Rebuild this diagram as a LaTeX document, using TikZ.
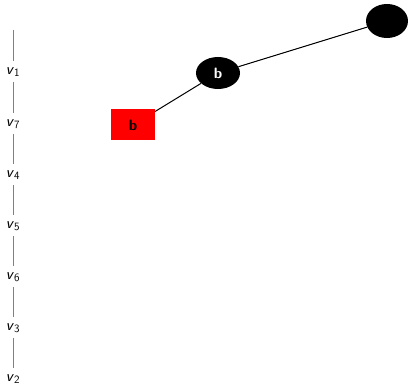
\documentclass[tikz,border=0pt]{standalone}
\usepackage{tikz}
\usetikzlibrary{shapes.geometric}
\begin{document}
\begin{tikzpicture}[x=1pt,y=-1pt,
  lab/.style={inner sep=1pt,font=\sffamily\fontsize{16}{18}\selectfont},
  vline/.style={draw=gray,line width=1pt,shorten <=10pt,shorten >=10.5pt},
  blk/.style={ellipse,fill=black,text=white,minimum width=44pt,minimum height=32pt,inner sep=0pt,font=\sffamily\bfseries\fontsize{15}{17}\selectfont},
  redbox/.style={rectangle,fill=red,text=black,minimum width=44pt,minimum height=31pt,inner sep=0pt,font=\sffamily\bfseries\fontsize{15}{17}\selectfont},
  edge/.style={draw=black,line width=1pt}]
\useasboundingbox (0,0) rectangle (408,385);
\coordinate (top) at (13,30);
\node[lab] (v1) at (13,72) {\textit{v}\textsubscript{1}};
\node[lab] (v7) at (13,124) {\textit{v}\textsubscript{7}};
\node[lab] (v4) at (13,175) {\textit{v}\textsubscript{4}};
\node[lab] (v5) at (13,226) {\textit{v}\textsubscript{5}};
\node[lab] (v6) at (13,277) {\textit{v}\textsubscript{6}};
\node[lab] (v3) at (13,328) {\textit{v}\textsubscript{3}};
\node[lab] (v2) at (13,379) {\textit{v}\textsubscript{2}};
\path[vline,shorten <=0pt] (top) -- (v1.center);
\path[vline] (v1.center) -- (v7.center);
\path[vline] (v7.center) -- (v4.center);
\path[vline] (v4.center) -- (v5.center);
\path[vline] (v5.center) -- (v6.center);
\path[vline] (v6.center) -- (v3.center);
\path[vline] (v3.center) -- (v2.center);
\node[blk,minimum width=42pt,minimum height=34pt] (t) at (387,21) {};
\node[blk] (m) at (218,73) {b};
\node[redbox] (r) at (133,125) {b};
\path[edge] (r) -- (m);
\path[edge] (m) -- (t);
\end{tikzpicture}
\end{document}
